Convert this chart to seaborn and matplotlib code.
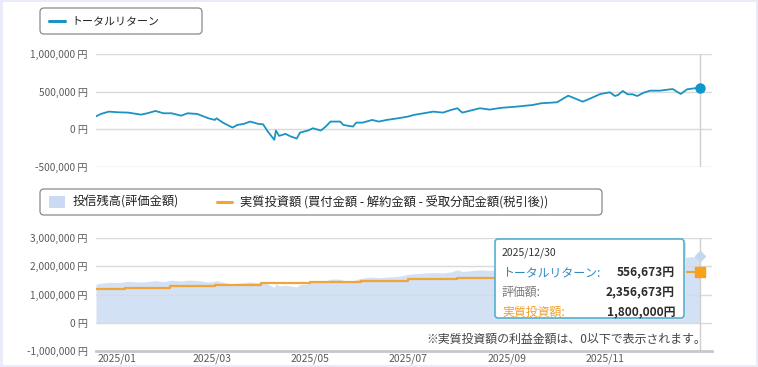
import matplotlib
matplotlib.use("Agg")
import numpy as np
import pandas as pd
import matplotlib.pyplot as plt
import seaborn as sns
import matplotlib.dates as mdates
from matplotlib.patches import FancyBboxPatch, Rectangle
from matplotlib.lines import Line2D
from matplotlib.transforms import IdentityTransform
from matplotlib.ticker import FixedLocator, FuncFormatter

# ---------------- data ----------------
return_dates = [
    "2024-12-19", "2024-12-22", "2024-12-27", "2025-01-02", "2025-01-08", "2025-01-16",
    "2025-01-20", "2025-01-25", "2025-01-30", "2025-02-04", "2025-02-10", "2025-02-14",
    "2025-02-20", "2025-02-27", "2025-03-03", "2025-03-04", "2025-03-08", "2025-03-14",
    "2025-03-17", "2025-03-21", "2025-03-25", "2025-03-30", "2025-04-02", "2025-04-05",
    "2025-04-09", "2025-04-10", "2025-04-12", "2025-04-16", "2025-04-19", "2025-04-23",
    "2025-04-25", "2025-04-30", "2025-05-03", "2025-05-08", "2025-05-11", "2025-05-14",
    "2025-05-20", "2025-05-22", "2025-05-28", "2025-05-30", "2025-06-03", "2025-06-09",
    "2025-06-13", "2025-06-18", "2025-06-25", "2025-07-01", "2025-07-05", "2025-07-11",
    "2025-07-17", "2025-07-23", "2025-07-28", "2025-08-01", "2025-08-04", "2025-08-09",
    "2025-08-15", "2025-08-21", "2025-08-28", "2025-09-07", "2025-09-17", "2025-09-22",
    "2025-10-02", "2025-10-09", "2025-10-18", "2025-10-23", "2025-10-29", "2025-11-04",
    "2025-11-07", "2025-11-09", "2025-11-12", "2025-11-15", "2025-11-18", "2025-11-21",
    "2025-11-25", "2025-11-29", "2025-12-05", "2025-12-13", "2025-12-18", "2025-12-22",
    "2025-12-30",
]
return_values = [
    172000, 204000, 235000, 226000, 222000, 195000,
    213000, 244000, 213000, 213000, 181000, 213000,
    204000, 146000, 124000, 146000, 88000, 22000,
    57000, 71000, 102000, 71000, 66000, -32000,
    -142000, -18000, -89000, -62000, -95000, -125000,
    -45000, -18000, 13000, -18000, 35000, 102000,
    102000, 57000, 35000, 88000, 88000, 124000,
    102000, 124000, 146000, 168000, 191000, 213000,
    235000, 222000, 257000, 280000, 222000, 248000,
    280000, 262000, 285000, 302000, 324000, 346000,
    360000, 448000, 368000, 413000, 471000, 493000,
    444000, 457000, 511000, 466000, 466000, 444000,
    488000, 515000, 515000, 537000, 471000, 533000,
    556673,
]
invest_dates = [
    "2024-12-19", "2025-01-06", "2025-02-03", "2025-03-03", "2025-04-01", "2025-05-01",
    "2025-06-02", "2025-07-01", "2025-08-01", "2025-09-01", "2025-10-01", "2025-11-04",
    "2025-12-01", "2025-12-30",
]
invest_values = [
    1200000, 1250000, 1300000, 1350000, 1400000, 1450000,
    1500000, 1550000, 1600000, 1650000, 1700000, 1750000,
    1800000, 1800000,
]
month_ticks = ["2025-01-01", "2025-03-01", "2025-05-01", "2025-07-01", "2025-09-01", "2025-11-01"]
top_yticks = [-500000, 0, 500000, 1000000]
bottom_yticks = [-1000000, 0, 1000000, 2000000, 3000000]

legend_return = "トータルリターン"
legend_value = "投信残高(評価金額)"
legend_invest = "実質投資額 (買付金額 - 解約金額 - 受取分配金額(税引後))"
note_text = "※実質投資額の利益金額は、0以下で表示されます。"

# ---------------- frames ----------------
ret = pd.DataFrame({"date": pd.to_datetime(return_dates), "value": return_values})
inv = pd.DataFrame({"date": pd.to_datetime(invest_dates), "invest": invest_values})
val = pd.merge_asof(ret.sort_values("date"), inv.sort_values("date"), on="date")
val["evaluation"] = val["invest"] + val["value"]

# ---------------- style ----------------
sns.set_theme(style="white")
plt.rcParams["font.family"] = ["Noto Sans CJK JP", "DejaVu Sans"]

W, H = 758, 367
fig = plt.figure(figsize=(W / 100, H / 100), dpi=100)
fig.patch.set_facecolor("#e9ecf8")
fig.patches.append(Rectangle((3, 2), 753, 363, transform=IdentityTransform(),
                             facecolor="white", edgecolor="none", zorder=-10))

def ax_rect(x0, y0, x1, y1):
    return [x0 / W, 1 - y1 / H, (x1 - x0) / W, (y1 - y0) / H]

BLUE = "#1b93c4"
ORANGE = "#f0a43a"
AREA = "#d2e1f4"
GRID = "#dadada"
TICKC = "#5a5a5a"

xmin = pd.Timestamp("2024-12-19")
xmax = pd.Timestamp("2026-01-06 12:00")
end_date = ret["date"].iloc[-1]

yen_fmt = FuncFormatter(lambda v, p: f"{v:,.0f} 円")

# ---------- top axes ----------
ax1 = fig.add_axes(ax_rect(96, 54, 712, 167))
sns.lineplot(data=ret, x="date", y="value", ax=ax1, color=BLUE, linewidth=1.3,
             estimator=None, legend=False, zorder=3)
ax1.plot([end_date], [return_values[-1]], marker="o", markersize=6.5,
         color="#0e96cf", zorder=5, clip_on=False)
ax1.axvline(end_date, color="#cfcfcf", linewidth=1, zorder=1)
ax1.set_ylim(-505000, 1005000)
ax1.yaxis.set_major_locator(FixedLocator(top_yticks))
ax1.yaxis.set_major_formatter(yen_fmt)
ax1.set_xlim(xmin, xmax)
ax1.set_xticks([])

# ---------- bottom axes ----------
ax2 = fig.add_axes(ax_rect(96, 238, 712, 351))
ax2.fill_between(val["date"], 0, val["evaluation"], color=AREA, linewidth=0, zorder=0.2)
sns.lineplot(data=inv, x="date", y="invest", ax=ax2, color=ORANGE, linewidth=1.6,
             estimator=None, legend=False, drawstyle="steps-post", zorder=3)
ax2.axvline(end_date, color="#cfcfcf", linewidth=1, zorder=1)
ax2.plot([end_date], [val["evaluation"].iloc[-1]], marker="D", markersize=5,
         color="#c3d7ef", zorder=5, clip_on=False)
ax2.plot([end_date], [invest_values[-1]], marker="s", markersize=7.5,
         color="#f7a21b", zorder=5, clip_on=False)
ax2.set_ylim(-1000000, 3010000)
ax2.yaxis.set_major_locator(FixedLocator(bottom_yticks))
ax2.yaxis.set_major_formatter(yen_fmt)
ax2.set_xlim(xmin, xmax)
ax2.xaxis.set_major_locator(FixedLocator(mdates.date2num(pd.to_datetime(month_ticks))))
ax2.xaxis.set_major_formatter(mdates.DateFormatter("%Y/%m"))

for ax in (ax1, ax2):
    ax.set_facecolor("none")
    ax.set_axisbelow(True)
    ax.grid(axis="y", color=GRID, linewidth=1)
    ax.grid(axis="x", visible=False)
    for s in ax.spines.values():
        s.set_visible(False)
    ax.set_xlabel("")
    ax.set_ylabel("")
    ax.tick_params(axis="y", length=0, pad=6, labelsize=7.3, labelcolor=TICKC)
    ax.tick_params(axis="x", length=0, pad=2, labelsize=7.5, labelcolor=TICKC)

ax2.spines["bottom"].set_visible(True)
ax2.spines["bottom"].set_color("#c8c8c8")
ax2.spines["bottom"].set_linewidth(2)

# ---------- legend boxes (pixel coordinates) ----------
def box(x0, y0, x1, y1, ec="#8a8a8a", fc="white", lw=0.9, r=4, z=6):
    p = FancyBboxPatch((x0, H - y1), x1 - x0, y1 - y0,
                       boxstyle=f"round,pad=0,rounding_size={r}",
                       transform=IdentityTransform(), facecolor=fc, edgecolor=ec,
                       linewidth=lw, zorder=z)
    fig.patches.append(p)

def ftext(x, y, s, **kw):
    fig.text(x / W, 1 - y / H, s, va="center", zorder=12, **kw)

def fline(x0, x1, y, color, lw):
    fig.lines.append(Line2D([x0 / W, x1 / W], [1 - y / H, 1 - y / H],
                            transform=fig.transFigure, color=color, linewidth=lw,
                            zorder=12))

box(40, 8, 202, 34)
fline(49, 65, 21, BLUE, 2.2)
ftext(71, 21.5, legend_return, fontsize=7.9, color="#222222")

box(40, 189, 602, 215)
fig.patches.append(Rectangle((49 / W, 1 - 208 / H), 16 / W, 12 / H,
                             transform=fig.transFigure, facecolor="#c8dbf2",
                             edgecolor="none", zorder=7))
ftext(73, 202.5, legend_value, fontsize=8.8, color="#222222")
fline(217, 232, 202, ORANGE, 2.2)
ftext(240, 202.5, legend_invest, fontsize=8.8, color="#222222")

# ---------- tooltip ----------
box(497, 241, 686, 320, ec="#e3e3e3", fc="#e3e3e3", lw=0, r=3, z=8)
box(495, 239, 684, 318, ec="#55b0d2", fc="white", lw=1.2, r=3, z=9)
last_ret = return_values[-1]
last_inv = invest_values[-1]
last_val = last_ret + last_inv
t_items = [
    ("トータルリターン:", "#2f8ac0", f"{last_ret:,}円", 272.5),
    ("評価額:", "#7a7a7a", f"{last_val:,}円", 292.5),
    ("実質投資額:", "#f0a030", f"{last_inv:,}円", 312.5),
]
fig.text(502 / W, 1 - 253 / H, end_date.strftime("%Y/%m/%d"), va="center",
         fontsize=7.5, color="#333333", zorder=12)
for lab, col, v, yy in t_items:
    fig.text(502 / W, 1 - yy / H, lab, va="center", fontsize=8.6, color=col, zorder=12)
    fig.text(675 / W, 1 - yy / H, v, va="center", ha="right", fontsize=8.6,
             color="#2a2a2a", fontweight="bold", zorder=12)

# ---------- note ----------
fig.text(706 / W, 1 - 339.5 / H, note_text, va="center", ha="right",
         fontsize=8.6, color="#444444", zorder=12)

fig.savefig("out.png", dpi=100, facecolor=fig.get_facecolor())
